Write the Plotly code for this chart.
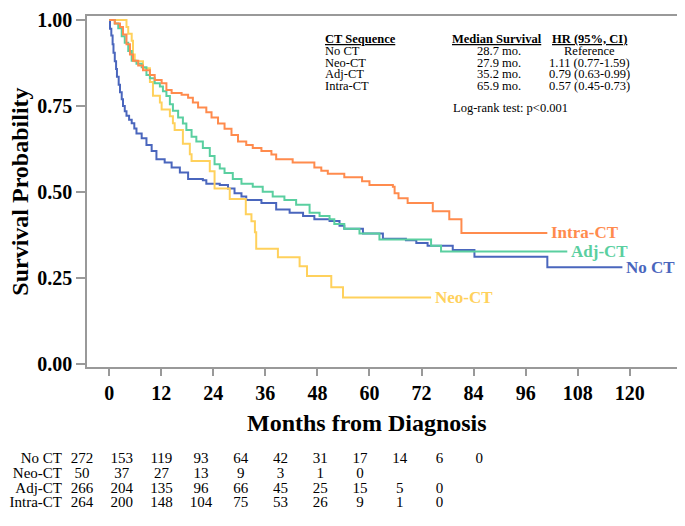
import plotly.graph_objects as go

# Curvas de Kaplan-Meier (meses, probabilidade de sobrevida)
no_ct_t = [0, 0.2, 0.5, 0.8, 1.0, 1.3, 1.6, 1.8, 2.2, 2.5, 2.9, 3.2, 3.6, 4.0, 4.6, 5.2, 5.8, 6.3, 7.5, 8.6,
           9.8, 10.9, 12.8, 14.4, 16.3, 18.2, 21.6, 22.4, 25.5, 27.4, 28.9, 30.5, 31.6, 35.1, 38.5, 41.6,
           44.7, 47.3, 50.8, 53.1, 54.2, 58.5, 63.1, 68.4, 70.8, 73.4, 79.2, 84.2, 101.0, 118.3]
no_ct_s = [1.0, 0.975, 0.955, 0.93, 0.905, 0.88, 0.858, 0.835, 0.812, 0.79, 0.77, 0.75, 0.735, 0.722, 0.71, 0.70,
           0.685, 0.67, 0.656, 0.637, 0.619, 0.595, 0.586, 0.571, 0.557, 0.538, 0.534, 0.524, 0.52, 0.51,
           0.496, 0.487, 0.477, 0.468, 0.449, 0.44, 0.43, 0.421, 0.416, 0.402, 0.393, 0.379, 0.364, 0.36,
           0.352, 0.344, 0.331, 0.312, 0.281, 0.281]

neo_ct_t = [0, 4.0, 4.4, 5.2, 5.5, 5.9, 7.8, 9.4, 10.1, 11.7, 12.1, 14.0, 14.7, 15.1, 17.0, 18.6, 19.0, 23.2,
            24.3, 27.8, 31.5, 32.8, 33.6, 33.9, 38.9, 43.9, 45.6, 51.2, 53.9, 74.2]
neo_ct_s = [1.0, 0.98, 0.96, 0.94, 0.90, 0.88, 0.86, 0.82, 0.78, 0.76, 0.74, 0.72, 0.70, 0.68, 0.64, 0.61,
            0.59, 0.56, 0.51, 0.48, 0.435, 0.415, 0.383, 0.335, 0.31, 0.284, 0.256, 0.223, 0.193, 0.193]

adj_ct_t = [0, 1.3, 2.1, 2.9, 3.6, 4.4, 5.2, 6.3, 7.5, 8.6, 9.4, 10.5, 11.7, 12.4, 13.2, 14.0, 14.7, 15.9,
            17.0, 17.8, 19.0, 20.1, 21.6, 23.2, 24.3, 25.5, 26.6, 28.5, 30.5, 33.1, 35.4, 37.7, 40.4, 43.1,
            46.2, 48.5, 50.8, 51.9, 54.2, 57.7, 62.3, 74.2, 76.5, 105.6]
adj_ct_s = [1.0, 0.99, 0.976, 0.953, 0.934, 0.91, 0.882, 0.873, 0.863, 0.84, 0.831, 0.816, 0.807, 0.793,
            0.779, 0.755, 0.736, 0.717, 0.699, 0.68, 0.661, 0.647, 0.628, 0.605, 0.581, 0.568, 0.555, 0.538,
            0.524, 0.515, 0.501, 0.487, 0.477, 0.463, 0.44, 0.43, 0.421, 0.407, 0.393, 0.379, 0.362, 0.344,
            0.327, 0.327]

intra_ct_t = [0, 1.3, 2.5, 3.2, 4.0, 4.8, 5.5, 6.7, 7.8, 9.4, 10.5, 12.1, 13.2, 14.4, 16.7, 18.2, 19.3, 20.5,
              22.4, 23.6, 25.1, 26.6, 28.2, 29.7, 31.6, 33.1, 35.1, 37.4, 38.5, 42.3, 47.3, 48.9, 50.4, 54.2,
              58.3, 60.0, 65.4, 65.8, 66.7, 68.8, 74.6, 78.4, 81.2, 101.0]
intra_ct_s = [1.0, 0.99, 0.98, 0.958, 0.93, 0.9, 0.882, 0.868, 0.854, 0.84, 0.826, 0.816, 0.797, 0.788,
              0.783, 0.774, 0.76, 0.746, 0.732, 0.717, 0.699, 0.684, 0.666, 0.647, 0.637, 0.628, 0.619, 0.609,
              0.595, 0.586, 0.571, 0.562, 0.553, 0.543, 0.531, 0.52, 0.515, 0.496, 0.482, 0.468, 0.444, 0.421,
              0.381, 0.381]

groups = ["No CT", "Neo-CT", "Adj-CT", "Intra-CT"]
colors = ["#4a66bd", "#ffd15c", "#5acfa0", "#ff8b4d"]
curves = [(no_ct_t, no_ct_s), (neo_ct_t, neo_ct_s), (adj_ct_t, adj_ct_s), (intra_ct_t, intra_ct_s)]

# Tabela de números em risco
risk_times = [0, 12, 24, 36, 48, 60, 72, 84, 96, 108, 120]
risk_counts = [
    [272, 153, 119, 93, 64, 42, 31, 17, 14, 6, 0],
    [50, 37, 27, 13, 9, 3, 1, 0],
    [266, 204, 135, 96, 66, 45, 25, 15, 5, 0],
    [264, 200, 148, 104, 75, 53, 26, 9, 1, 0],
]

# Quadro de medianas e HR
median_surv = ["28.7 mo.", "27.9 mo.", "35.2 mo.", "65.9 mo."]
hr_ci = ["Reference", "1.11 (0.77-1.59)", "0.79 (0.63-0.99)", "0.57 (0.45-0.73)"]

# a página tem margem de 8px no body, então a figura fica 8px menor e as posições são descontadas
OFF = 8
W, H = 685 - OFF, 526 - OFF
SERIF = "Liberation Serif"


def px(x):
    return (x - OFF) / W


def py(y):
    return 1 - (y - OFF) / H


fig = go.Figure()

for name, color, (t, s) in zip(groups, colors, curves):
    fig.add_trace(go.Scatter(x=t, y=s, mode="lines", name=name, line=dict(color=color, width=2, shape="hv"),
                             showlegend=False, xaxis="x", yaxis="y"))
    fig.add_annotation(x=t[-1], y=s[-1], xref="x", yref="y", xanchor="left", yanchor="middle", xshift=2,
                       text="<b>" + name + "</b>", showarrow=False,
                       font=dict(family=SERIF, size=17, color=color))

# tabela de risco num eixo próprio (invisível), na faixa inferior
for i, (name, counts) in enumerate(zip(groups, risk_counts)):
    fig.add_trace(go.Scatter(x=risk_times[:len(counts)], y=[i] * len(counts), mode="text",
                             text=[str(c) for c in counts], textposition="middle center",
                             textfont=dict(family=SERIF, size=15, color="black"),
                             showlegend=False, hoverinfo="skip", xaxis="x2", yaxis="y2"))
fig.add_trace(go.Scatter(x=[-6] * len(groups), y=list(range(len(groups))), mode="text", text=groups,
                         textposition="middle left", textfont=dict(family=SERIF, size=15, color="black"),
                         showlegend=False, hoverinfo="skip", xaxis="x2", yaxis="y2"))

axis_font = dict(family=SERIF, size=20, color="black")
fig.update_layout(
    width=W, height=H,
    margin=dict(l=0, r=0, t=0, b=0),
    paper_bgcolor="white", plot_bgcolor="rgba(0,0,0,0)",
    xaxis=dict(domain=[px(87), px(684)], range=[-5.13, 132.27], tickvals=risk_times,
               ticktext=["<b>%d</b>" % v for v in risk_times], tickfont=axis_font,
               ticks="outside", ticklen=8, tickcolor="#999999", tickwidth=1.5,
               showline=True, linecolor="#999999", linewidth=1.5, mirror=True,
               showgrid=False, zeroline=False, anchor="y", ticklabeloverflow="allow"),
    yaxis=dict(domain=[py(370), py(9)], range=[-0.0076, 1.012], tickvals=[0, 0.25, 0.5, 0.75, 1.0],
               ticktext=["<b>%.2f</b>" % v for v in [0, 0.25, 0.5, 0.75, 1.0]], tickfont=axis_font,
               ticks="outside", ticklen=9, tickcolor="#999999", tickwidth=1.5,
               showline=True, linecolor="#999999", linewidth=1.5, mirror=True,
               showgrid=False, zeroline=False, anchor="x", ticklabeloverflow="allow"),
    xaxis2=dict(domain=[0, 1], range=[-22.31, 181.8], visible=False, anchor="y2"),
    yaxis2=dict(domain=[0, 80 / H], range=[4.0, -1.333], visible=False, anchor="x2"),
)


def note(x, y, text, font, xanchor="center", **kw):
    fig.add_annotation(x=px(x), y=py(y), xref="paper", yref="paper", showarrow=False,
                       xanchor=xanchor, yanchor="middle", text=text, font=font, **kw)


# títulos dos eixos
title_font = dict(family=SERIF, size=24, color="black")
note(368, 428, "<b>Months from Diagnosis</b>", title_font)
note(20, 190, "<b>Survival Probability</b>", title_font, textangle=-90)

# quadro de legenda
small = dict(family=SERIF, size=12.5, color="black")
note(323, 33, "<b><u>CT Sequence</u></b>", small, xanchor="left")
note(498, 33, "<b><u>Median Survival</u></b>", small)
note(590, 33, "<b><u>HR (95%, CI)</u></b>", small)
for i, name in enumerate(groups):
    yy = 45 + 12 * i
    note(323, yy, name, small, xanchor="left")
    note(500, yy, median_surv[i], small)
    note(590, yy, hr_ci[i], small)
note(511, 104, "Log-rank test: p<0.001", small)

fig.write_html("out.html")
